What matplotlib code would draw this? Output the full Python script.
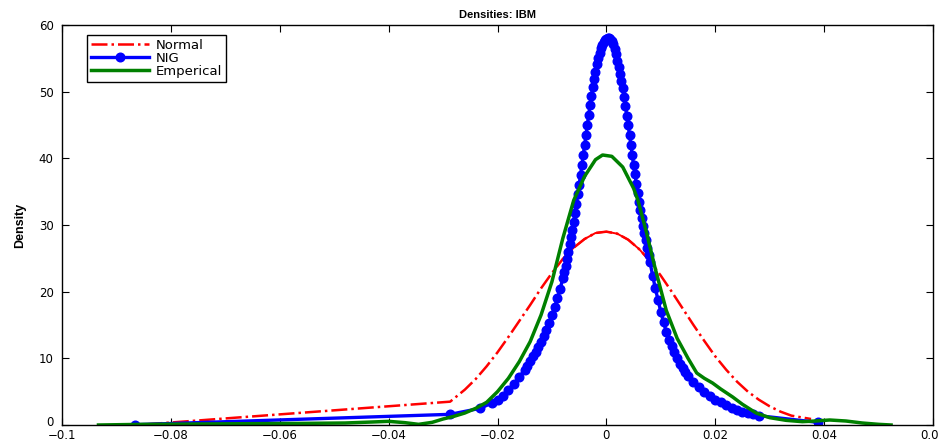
import numpy as np
import matplotlib
matplotlib.use("Agg")
import matplotlib.pyplot as plt
from matplotlib.transforms import ScaledTranslation

plt.rcParams['font.family'] = ['DejaVu Sans']

# Normal fit (red)
normal_x = [-0.0845, -0.0287, -0.026, -0.024, -0.022, -0.020, -0.018, -0.016, -0.014,
            -0.012, -0.010, -0.008, -0.006, -0.004, -0.002, 0.0, 0.002, 0.004, 0.006,
            0.008, 0.010, 0.012, 0.014, 0.016, 0.018, 0.020, 0.022, 0.024, 0.026,
            0.028, 0.030, 0.032, 0.034, 0.0376]
normal_y = [0.1, 3.5, 5.3, 6.9, 8.8, 10.9, 13.2, 15.6, 18.0,
            20.5, 22.8, 24.9, 26.6, 27.9, 28.8, 29.0, 28.7, 27.8, 26.4,
            24.6, 22.4, 20.0, 17.5, 15.0, 12.6, 10.3, 8.3, 6.5, 5.0,
            3.8, 2.8, 2.0, 1.4, 0.9]

# NIG fit (blue, markers)
nig_x = [-0.0865, -0.0287, -0.0232, -0.021, -0.020, -0.019, -0.018, -0.017, -0.016, -0.015,
         -0.0145, -0.014, -0.0135, -0.013, -0.0125, -0.012, -0.0115, -0.011, -0.0105, -0.010,
         -0.0095, -0.009, -0.0085,
         -0.008, -0.00775, -0.0075, -0.00725, -0.007, -0.00675, -0.0065, -0.00625,
         -0.006, -0.00575, -0.0055, -0.00525, -0.005, -0.00475, -0.0045, -0.00425,
         -0.004, -0.00375, -0.0035, -0.00325, -0.003, -0.00275, -0.0025, -0.00225,
         -0.002, -0.00175, -0.0015, -0.00125, -0.001, -0.00075, -0.0005, -0.00025,
         0.0, 0.00025, 0.0005, 0.00075, 0.001, 0.00125, 0.0015, 0.00175,
         0.002, 0.00225, 0.0025, 0.00275, 0.003, 0.00325, 0.0035, 0.00375,
         0.004, 0.00425, 0.0045, 0.00475, 0.005, 0.00525, 0.0055, 0.00575,
         0.006, 0.00625, 0.0065, 0.00675, 0.007, 0.00725, 0.0075, 0.00775, 0.008,
         0.0085, 0.009, 0.0095, 0.010,
         0.0105, 0.011, 0.0115, 0.012, 0.0125, 0.013, 0.0135, 0.014, 0.0145, 0.015,
         0.016, 0.017, 0.018, 0.019, 0.020, 0.021, 0.022, 0.023, 0.024, 0.025,
         0.026, 0.027, 0.028, 0.0388]
nig_y = [0.05, 1.6, 2.5, 3.3, 3.8, 4.4, 5.2, 6.2, 7.2, 8.3,
         8.9, 9.6, 10.3, 11.0, 11.7, 12.5, 13.4, 14.3, 15.3, 16.5,
         17.7, 19.0, 20.4,
         22.0, 22.9, 23.9, 24.9, 26.0, 27.1, 28.2, 29.3,
         30.5, 31.8, 33.2, 34.6, 36.0, 37.5, 39.0, 40.5,
         42.0, 43.5, 45.0, 46.5, 48.0, 49.4, 50.7, 51.9,
         53.0, 54.1, 55.0, 55.8, 56.5, 57.0, 57.4, 57.7,
         57.9, 58.0, 58.0, 57.9, 57.6, 57.1, 56.4, 55.6,
         54.6, 53.7, 52.7, 51.6, 50.5, 49.2, 47.8, 46.4,
         45.0, 43.5, 42.0, 40.5, 39.0, 37.6, 36.2, 34.8,
         33.5, 32.3, 31.1, 29.9, 28.8, 27.7, 26.6, 25.5, 24.5,
         22.4, 20.5, 18.7, 17.0,
         15.4, 14.0, 12.8, 11.8, 10.9, 10.0, 9.2, 8.5, 7.9, 7.4,
         6.5, 5.7, 4.9, 4.3, 3.8, 3.4, 3.0, 2.6, 2.3, 2.0,
         1.8, 1.6, 1.4, 0.4]

# empirical kernel density (green)
emp_x = [-0.0933, -0.085, -0.075, -0.065, -0.055, -0.048, -0.043, -0.040, -0.037, -0.0345,
         -0.032, -0.030, -0.028, -0.026, -0.024, -0.022, -0.020, -0.018, -0.016, -0.014,
         -0.012, -0.010, -0.008, -0.006, -0.004, -0.002, -0.0007, 0.001, 0.003, 0.005,
         0.0058, 0.0074, 0.0089, 0.011, 0.013, 0.015, 0.0166, 0.018, 0.0195, 0.021,
         0.0232, 0.025, 0.0275, 0.030, 0.033, 0.036, 0.0385, 0.041, 0.044, 0.047,
         0.050, 0.0523]
emp_y = [0.0, 0.1, 0.15, 0.2, 0.25, 0.3, 0.45, 0.55, 0.35, 0.1,
         0.4, 0.9, 1.3, 1.8, 2.5, 3.4, 5.0, 7.0, 9.5, 12.5,
         16.5, 21.5, 28.0, 33.7, 37.3, 39.8, 40.5, 40.3, 38.7, 35.5,
         33.7, 28.8, 23.7, 17.2, 13.0, 10.0, 7.8, 7.0, 6.3, 5.4,
         4.2, 3.1, 1.8, 1.1, 0.7, 0.5, 0.6, 0.75, 0.6, 0.3,
         0.1, 0.0]

x_ticks = [-0.1, -0.08, -0.06, -0.04, -0.02, 0, 0.02, 0.04, 0.06]
x_ticklabels = ['\u22120.1', '\u22120.08', '\u22120.06', '\u22120.04', '\u22120.02',
                '0', '0.02', '0.04', '0.06']
y_ticks = [0, 10, 20, 30, 40, 50, 60]

fig = plt.figure(figsize=(9.38, 4.43), dpi=100)
ax = fig.add_axes([62 / 938, 18 / 443, 871 / 938, 400 / 443])

nx = np.array(normal_x)
ny = np.array(normal_y)
ax.plot(nx, ny, color='red', lw=1.8, linestyle='-.', label='Normal')
# dense middle part renders as a thin solid line in the original
mid = np.abs(nx) <= 0.008
ax.plot(nx[mid], ny[mid], color='red', lw=1.4, linestyle='-')

ax.plot(nig_x, nig_y, color='blue', lw=2.4, marker='o', markersize=6.2,
        markeredgecolor='blue', markerfacecolor='blue', label='NIG')
ax.plot(emp_x, emp_y, color='green', lw=2.5, label='Emperical')

ax.set_xlim(-0.1, 0.06)
ax.set_ylim(0, 60)
ax.set_xticks(x_ticks)
ax.set_xticklabels(x_ticklabels)
ax.set_yticks(y_ticks)
ax.tick_params(direction='in', length=5, width=0.8, top=True, right=True)
ax.tick_params(axis='x', pad=3, labelsize=8.5)
ax.tick_params(axis='y', pad=6, labelsize=8.5)
for s in ax.spines.values():
    s.set_linewidth(1.0)

# lift the "0" y label a little so it clears the "-0.1" x label
zero_lab = ax.get_yticklabels()[0]
zero_lab.set_transform(zero_lab.get_transform() + ScaledTranslation(0, 3 / 72, fig.dpi_scale_trans))

ax.set_title('Densities: IBM', fontsize=8, fontweight='bold', pad=5,
             family=['Liberation Sans', 'DejaVu Sans'])
ax.set_ylabel('Density', fontsize=9, fontweight='bold', labelpad=9,
              family=['Liberation Sans Narrow', 'Liberation Sans', 'DejaVu Sans'])

leg = ax.legend(loc='upper left', bbox_to_anchor=(0.0287, 0.975), borderaxespad=0,
                fontsize=9.5, handlelength=4.4, handletextpad=0.5, labelspacing=0.0,
                borderpad=0.3, fancybox=False, framealpha=1, edgecolor='black')
leg.get_frame().set_linewidth(1.0)

fig.savefig('out.png', dpi=100)
